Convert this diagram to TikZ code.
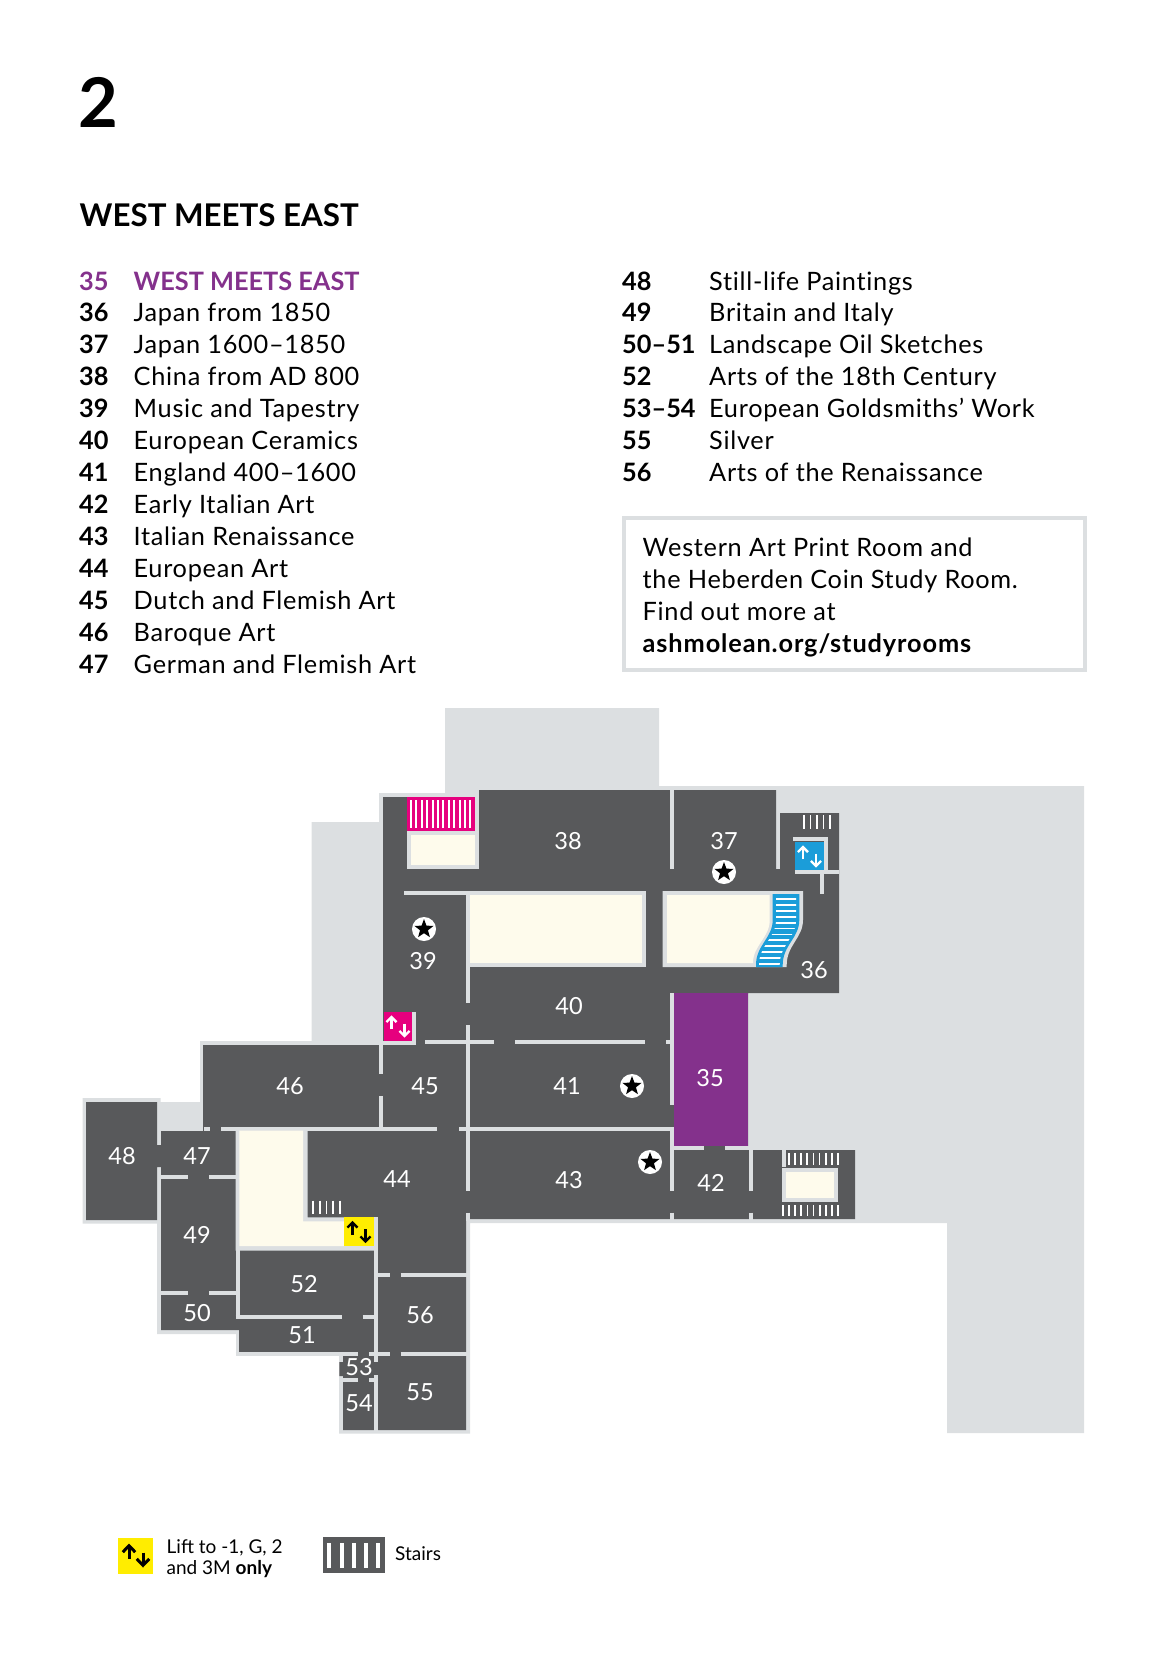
\documentclass[tikz,border=0pt]{standalone}
\usepackage{fontspec}
\setmainfont{Lato}
\usepackage{tikz}
\usetikzlibrary{arrows.meta, shapes.geometric}

\definecolor{floorgrey}{HTML}{58595B}
\definecolor{wallgrey}{HTML}{DCDFE1}
\definecolor{courtcream}{HTML}{FEFBEC}
\definecolor{liftpink}{HTML}{E6007E}
\definecolor{liftblue}{HTML}{1B9DD9}
\definecolor{liftyellow}{HTML}{FFED00}
\definecolor{galleryplum}{HTML}{84318C}

\tikzset{
	wall/.style={draw=wallgrey, line width=0.04cm},
	court/.style={draw=wallgrey, fill=courtcream, line width=0.04cm},
	stairbar/.style={draw=white, line width=0.018cm},
	roomlabel/.style={text=white, inner sep=0, font=\fontsize{6.7}{8}\selectfont},
	listnum/.style={anchor=base west, inner sep=0, font=\fontsize{7.2}{9}\selectfont\bfseries},
	listcaps/.style={anchor=base west, inner sep=0, font=\fontsize{7.2}{9}\selectfont\bfseries},
	listname/.style={anchor=base west, inner sep=0, font=\fontsize{7.2}{9}\selectfont\addfontfeature{LetterSpace=2.8, Ligatures=NoCommon}},
	urltext/.style={anchor=base west, inner sep=0, font=\fontsize{7.2}{9}\selectfont\bfseries\addfontfeature{LetterSpace=3.5}},
	keytext/.style={anchor=base west, inner sep=0, font=\fontsize{5.4}{7}\selectfont},
	starback/.style={circle, fill=white, inner sep=0, minimum size=0.24cm},
	starmark/.style={star, star points=5, star point ratio=2.4, fill=black, inner sep=0, minimum size=0.2cm},
	lift/.pic={
		\draw[pic actions, ->] (-7,3) -- (-7,-12);
		\draw[pic actions, ->] (7,-3) -- (7,12);
	},
	liftbig/.style={line width=0.03cm, >={Straight Barb[length=0.65mm, width=1.25mm]}},
	liftsmall/.style={scale=0.93, line width=0.024cm, >={Straight Barb[length=0.5mm, width=1mm]}},
}

\begin{document}
\begin{tikzpicture}[x=0.01cm, y=-0.01cm]
	\useasboundingbox (0,0) rectangle (1166,1654);

	% headings
	\node[anchor=base west, inner sep=0, font=\fontsize{19.5}{24}\selectfont\bfseries] (floorno) at (78,127) {2};
	\node[anchor=base west, inner sep=0, font=\fontsize{8.9}{11}\selectfont\bfseries] (title) at (79,226) {WEST MEETS EAST};

	% gallery list
	\node[listnum, text=galleryplum] (num35) at (78.5,290) {35};
	\node[listcaps, text=galleryplum] (name35) at (133,290) {WEST MEETS EAST};
	\foreach \y/\n/\t in {321/36/Japan from 1850, 353/37/Japan 1600–1850, 385/38/China from AD 800, 417/39/Music and Tapestry, 449/40/European Ceramics, 481/41/England 400–1600, 513/42/Early Italian Art, 545/43/Italian Renaissance, 577/44/European Art, 609/45/Dutch and Flemish Art, 641/46/Baroque Art, 673/47/German and Flemish Art}{
		\node[listnum] (num\n) at (78.5,\y) {\n};
		\node[listname] (name\n) at (133,\y) {\t};
	}
	\foreach \y/\n/\t in {290/48/Still-life Paintings, 321/49/Britain and Italy, 353/50–51/Landscape Oil Sketches, 385/52/Arts of the 18th Century, 417/53–54/European Goldsmiths’ Work, 449/55/Silver, 481/56/Arts of the Renaissance}{
		\node[listnum] (num\n) at (621.5,\y) {\n};
		\node[listname] (name\n) at (708.5,\y) {\t};
	}

	% print room box
	\draw[wall] (624.3,517.7) rectangle (1084.7,669.7);
	\node[listname] (box1) at (642,556) {Western Art Print Room and};
	\node[listname] (box2) at (642,588) {the Heberden Coin Study Room.};
	\node[listname] (box3) at (642,620) {Find out more at};
	\node[urltext] (box4) at (642,652) {ashmolean.org/studyrooms};

	% site and walls underneath
	\fill[wallgrey] (445,708) -- (659,708) -- (659,786) -- (1084,786) -- (1084,1433) -- (947,1433) -- (947,1223) -- (470,1223) -- (470,1433.5) -- (339,1433.5) -- (339,1355.5) -- (236,1355.5) -- (236,1334) -- (157,1334) -- (157,1223.5) -- (82.7,1223.5) -- (82.7,1098) -- (160.7,1098) -- (160.7,1102) -- (200,1102) -- (200,1041) -- (311.5,1041) -- (311.5,822) -- (379,822) -- (379,793) -- (445,793) -- cycle;

	% floor
	\fill[floorgrey] (383,797) -- (479,797) -- (479,790) -- (776,790) -- (776,869) -- (780,869) -- (780,813) -- (839,813) -- (839,993) -- (748,993) -- (748,1150) -- (855,1150) -- (855,1219) -- (466,1219) -- (466,1430) -- (343,1430) -- (343,1376) -- (339.3,1376) -- (339.3,1362) -- (343,1362) -- (343,1352) -- (239,1352) -- (239,1330) -- (161,1330) -- (161,1167) -- (157,1167) -- (157,1220) -- (86,1220) -- (86,1102) -- (157,1102) -- (157,1145) -- (161,1145) -- (161,1131) -- (203,1131) -- (203,1045) -- (383,1045) -- cycle;
	\fill[galleryplum] (674,993) rectangle (748,1146);

	% walls
	\draw[wall] (672,790) -- (672,869) (672,993) -- (672,1105) (672,1128) -- (672,1190.7) (672,1212.7) -- (672,1221);
	\draw[wall] (750.7,1148) -- (750.7,1190.7) (750.7,1212.7) -- (750.7,1221);
	\draw[wall] (674,1148) -- (704,1148) (725,1148) -- (752,1148);
	\draw[wall] (783.5,1150) -- (783.5,1167);
	\draw[wall] (477,793) -- (477,831);
	\draw[wall] (404,893) -- (468,893);
	\draw[wall] (468,965) -- (468,1003) (468,1025) -- (468,1191) (468,1212.7) -- (468,1221);
	\draw[wall] (425,1042) -- (493.6,1042) (515,1042) -- (645,1042) (666,1042) -- (673,1042);
	\draw[wall] (379,1043) -- (416,1043) (414,1012) -- (414,1045);
	\draw[wall] (381,1045) -- (381,1074) (381,1096) -- (381,1128);
	\draw[wall] (204,1128.7) -- (210,1128.7) (221,1128.7) -- (437,1128.7) (459,1128.7) -- (674,1128.7);
	\draw[wall] (160,1176.7) -- (187.7,1176.7) (209,1176.7) -- (236,1176.7);
	\draw[wall] (160,1293.3) -- (187.7,1293.3) (209,1293.3) -- (236,1293.3);
	\draw[wall] (237.5,1128) -- (237.5,1319);
	\draw[wall] (235.7,1317) -- (341.7,1317) (362.7,1317) -- (374,1317);
	\draw[wall] (375.7,1217) -- (375.7,1361.7) (375.7,1375) -- (375.7,1432);
	\draw[wall] (377.7,1275.3) -- (390,1275.3) (400.7,1275.3) -- (467,1275.3);
	\draw[wall] (235.7,1353.7) -- (358,1353.7) (369,1353.7) -- (390,1353.7) (400.7,1353.7) -- (469,1353.7);
	\draw[wall] (341,1380) -- (358,1380) (369,1380) -- (377,1380);
	\draw[wall] (793,839) -- (826,839) -- (826,870);
	\draw[wall] (795,872) -- (839,872) (822,874) -- (822,894);

	% courtyards
	\draw[court] (409,833) rectangle (477,867);
	\draw[court] (468,893) rectangle (643.5,965);
	\draw[court] (783.7,1169.5) rectangle (835.5,1199.5);
	\fill[wallgrey] (662.5,891) -- (803,891) -- (803,920) .. controls (803,938) and (786.7,945) .. (786.7,965) -- (786.7,967) -- (662.5,967) -- cycle;
	\fill[courtcream] (667,895) -- (769.7,895) -- (769.7,920) .. controls (769.7,938) and (753,945) .. (753,963) -- (667,963) -- cycle;
	\fill[wallgrey] (235.7,1128) -- (307.7,1128) -- (307.7,1217.3) -- (377.7,1217.3) -- (377.7,1250.7) -- (235.7,1250.7) -- cycle;
	\fill[courtcream] (239.3,1130.7) -- (303,1130.7) -- (303,1221.3) -- (344,1221.3) -- (344,1246) -- (239.3,1246) -- cycle;

	% blue stair
	\fill[liftblue] (772.7,894) -- (799.3,894) -- (799.3,920) .. controls (799.3,938) and (782.7,945) .. (782.7,965) -- (782.7,967) -- (756,967) -- (756,965) .. controls (756,945) and (772.7,938) .. (772.7,920) -- cycle;
	\begin{scope}
		\clip (776,894) -- (796,894) -- (796,920) .. controls (796,938) and (779.7,945) .. (779.7,965) -- (779.7,967) -- (759,967) -- (759,965) .. controls (759,945) and (776,938) .. (776,920) -- cycle;
		\foreach \i in {0,...,11}
			\draw[stairbar] (750,899.3+5.85*\i) -- (805,899.3+5.85*\i);
	\end{scope}

	% other stairs
	\fill[liftpink] (407,797) rectangle (475,830.7);
	\foreach \i in {0,...,11}
		\draw[stairbar, line width=0.02cm] (411+5.4*\i,800) -- (411+5.4*\i,828);
	\foreach \i in {0,...,4}
		\draw[stairbar] (804+6.5*\i,815) -- (804+6.5*\i,829);
	\foreach \i in {0,...,4}
		\draw[stairbar] (313+6.7*\i,1200.7) -- (313+6.7*\i,1214);
	\foreach \i in {0,...,8}
		\draw[stairbar] (789+6.1*\i,1153) -- (789+6.1*\i,1165);
	\foreach \i in {0,...,9}
		\draw[stairbar] (783+6.1*\i,1205) -- (783+6.1*\i,1216);

	% lifts
	\fill[liftpink] (383.6,1012) rectangle (412,1040.7);
	\pic[white, liftsmall] at (398,1026.5) {lift};
	\fill[liftblue] (795,841.7) rectangle (824,870);
	\pic[white, liftsmall] at (809.5,856.5) {lift};
	\fill[liftyellow] (344,1217.3) rectangle (374,1246);
	\pic[black, liftsmall] at (359,1232) {lift};

	% rooms
	\foreach \x/\y/\n in {710/1078/35, 814/970/36, 724/841/37, 568/841/38, 423/961/39, 569/1006/40, 567/1086/41, 711/1183/42, 569/1180/43, 397/1179/44, 425/1086/45, 290/1086/46, 197/1156/47, 122/1156/48, 197/1235/49, 197/1313/50, 302/1335/51, 304/1284/52, 359/1367/53, 359/1403/54, 420/1392/55, 420/1315/56}
		\node[roomlabel] (room\n) at (\x,\y) {\n};

	% highlights
	\foreach \x/\y/\n in {424/929/a, 724/872/b, 632/1086/c, 650/1162/d}{
		\node[starback] (back\n) at (\x,\y) {};
		\node[starmark] (star\n) at (\x,\y) {};
	}

	% key
	\fill[liftyellow] (117.7,1537.7) rectangle (153.3,1573.7);
	\pic[black, liftbig] at (136,1555.5) {lift};
	\node[keytext] (keylift1) at (166,1553) {Lift to -1, G, 2};
	\node[keytext] (keylift2) at (166,1574) {and 3M \textbf{only}};
	\fill[floorgrey] (322.7,1537) rectangle (385,1573);
	\foreach \x in {329.3,341.5,353.5,365.5,377.7}
		\fill[white] (\x-2,1542.7) rectangle (\x+2,1568.3);
	\node[keytext] (keystairs) at (394.5,1560) {Stairs};
\end{tikzpicture}
\end{document}
